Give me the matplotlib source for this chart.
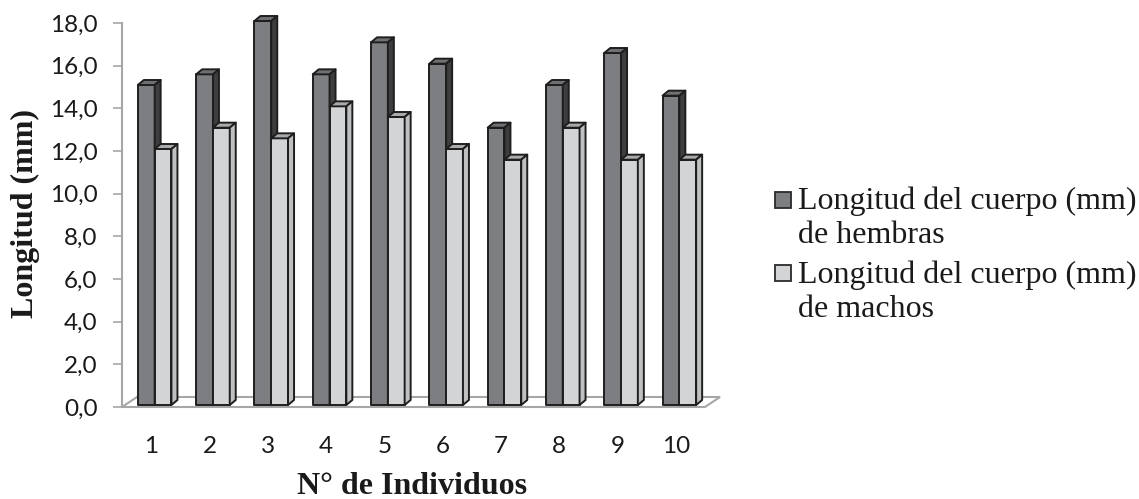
import matplotlib
matplotlib.use("Agg")
import matplotlib.pyplot as plt
from matplotlib.patches import Polygon, Rectangle

# ---- data ----
individuos = ["1", "2", "3", "4", "5", "6", "7", "8", "9", "10"]
hembras = [15.0, 15.5, 18.0, 15.5, 17.0, 16.0, 13.0, 15.0, 16.5, 14.5]
machos = [12.0, 13.0, 12.5, 14.0, 13.5, 12.0, 11.5, 13.0, 11.5, 11.5]
yticks = [0, 2, 4, 6, 8, 10, 12, 14, 16, 18]
ytick_labels = ["0,0", "2,0", "4,0", "6,0", "8,0", "10,0", "12,0", "14,0", "16,0", "18,0"]
legend_lines = [["Longitud del cuerpo (mm)", "de hembras"],
                ["Longitud del cuerpo (mm)", "de machos"]]

W, H = 1139, 499
fig = plt.figure(figsize=(W / 100, H / 100), dpi=100)

# axes in pixel layout
ax_l, ax_r, ax_t, ax_b = 122, 705, 23, 407
ax = fig.add_axes([ax_l / W, 1 - ax_b / H, (ax_r - ax_l) / W, (ax_b - ax_t) / H])
n = len(individuos)
ax.set_xlim(0.5, n + 0.5)
ax.set_ylim(0, 18)

pxx = (ax_r - ax_l) / n          # pixels per x unit
pxy = (ax_b - ax_t) / 18.0       # pixels per y unit

def ox(px):
    return px / pxx

def oy(px):
    return px / pxy

for s in ["top", "right", "bottom"]:
    ax.spines[s].set_visible(False)
ax.spines["left"].set_color("#a6a6a6")
ax.spines["left"].set_linewidth(1.5)

ax.set_yticks(yticks)
ax.set_yticklabels(ytick_labels, fontsize=17.5, family="Lato", color="#1a1a1a")
ax.tick_params(axis="y", length=6.5, width=1.2, color="#a6a6a6", pad=11)
xs = list(range(1, n + 1))
ax.set_xticks(xs)
ax.set_xticklabels(individuos, fontsize=17.5, family="Lato", color="#1a1a1a")
ax.tick_params(axis="x", length=0, pad=21)

# floor
fdx, fdy = ox(15), oy(10)
floor = Polygon([(0.5, 0), (n + 0.5, 0), (n + 0.5 + fdx, fdy), (0.5 + fdx, fdy)],
                closed=True, facecolor="white", edgecolor="#a6a6a6", lw=1.5,
                clip_on=False, zorder=1)
ax.add_patch(floor)

# bars
bw = ox(16.8)
fx, fy = ox(3.5), oy(2)
ddx, ddy = ox(6), oy(5)
edge = "#1e1e1e"
lw = 1.4

def bar3d(x0, h, front, top, side):
    x1 = x0 + bw
    y0 = fy
    y1 = h + fy
    kw = dict(closed=True, edgecolor=edge, lw=lw, clip_on=False, zorder=3,
              joinstyle="round")
    ax.add_patch(Polygon([(x0, y0), (x1, y0), (x1, y1), (x0, y1)], facecolor=front, **kw))
    ax.add_patch(Polygon([(x0, y1), (x1, y1), (x1 + ddx, y1 + ddy), (x0 + ddx, y1 + ddy)],
                         facecolor=top, **kw))
    ax.add_patch(Polygon([(x1, y0), (x1 + ddx, y0 + ddy), (x1 + ddx, y1 + ddy), (x1, y1)],
                         facecolor=side, **kw))

F_front, F_top, F_side = "#7d7e82", "#6f7073", "#3e3e40"
M_front, M_top, M_side = "#d3d4d6", "#a9aaac", "#bfc0c2"

for c, hf, hm in zip(xs, hembras, machos):
    bar3d(c - bw + fx, hf, F_front, F_top, F_side)
    bar3d(c + fx, hm, M_front, M_top, M_side)

# axis labels
def fpos(x, y):
    return x / W, 1 - y / H

fig.text(*fpos(412, 494), "N° de Individuos", family="Liberation Serif",
         fontweight="bold", fontsize=23, ha="center", va="baseline", color="#1a1a1a")
fig.text(*fpos(25, 213), "Longitud (mm)", family="Liberation Serif",
         fontweight="bold", fontsize=23, ha="center", va="center", rotation=90,
         color="#1a1a1a")

# legend
leg_fill = [F_front, M_front]
marker_cy = [200, 273]
baselines = [[209, 243], [283, 317]]
for fill, cy, lines, bls in zip(leg_fill, marker_cy, legend_lines, baselines):
    x0, y0 = fpos(775, cy + 8)
    fig.patches.append(Rectangle((x0, y0), 16 / W, 16 / H, transform=fig.transFigure,
                                 facecolor=fill, edgecolor="#2a2a2a", lw=1.3))
    for txt, bl in zip(lines, bls):
        fig.text(*fpos(798, bl), txt, family="Liberation Serif", fontsize=23,
                 ha="left", va="baseline", color="#1a1a1a")

fig.savefig("out.png", dpi=100)
